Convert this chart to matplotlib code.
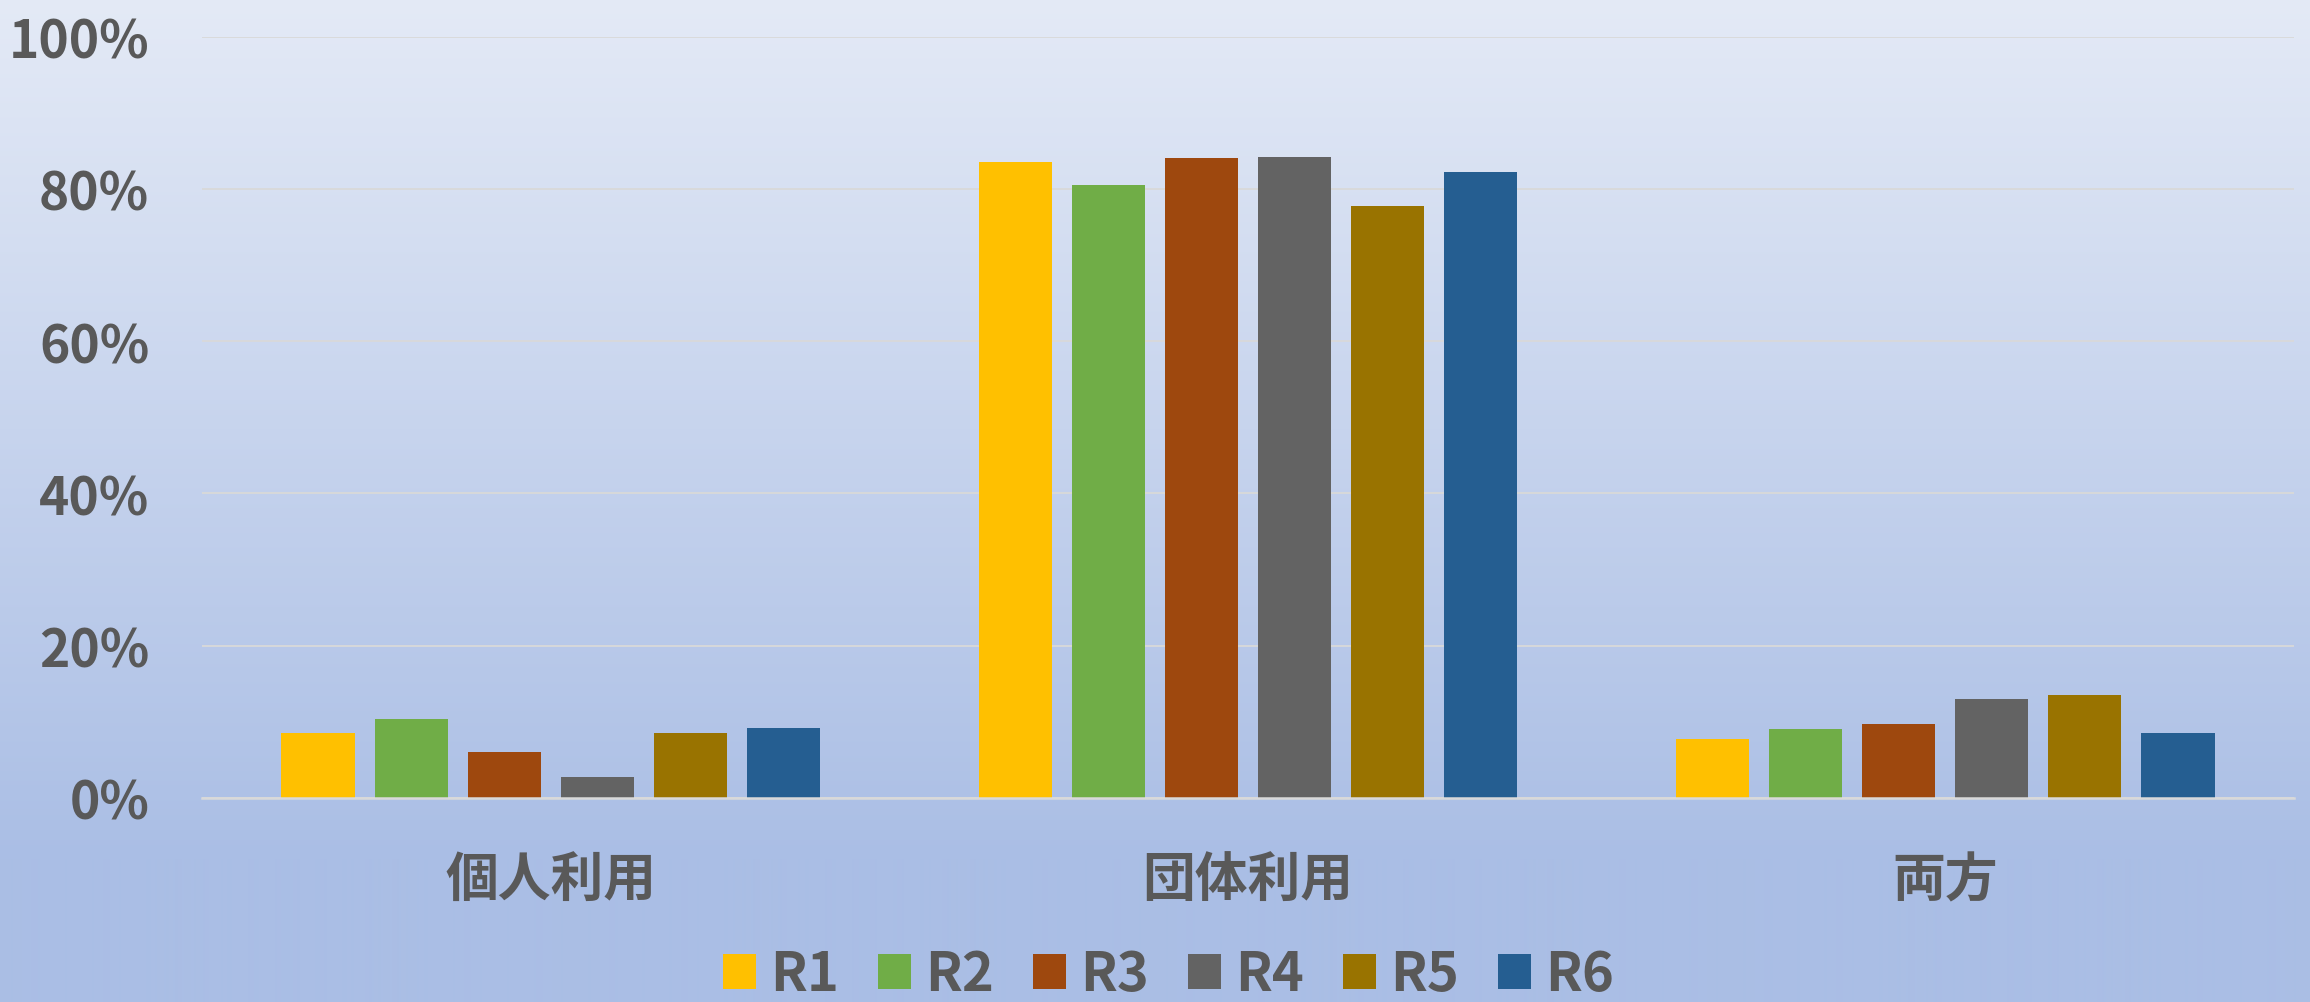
import numpy as np
import matplotlib
matplotlib.use("Agg")
import matplotlib.pyplot as plt
from matplotlib.ticker import PercentFormatter

plt.rcParams['font.family'] = ['Noto Sans CJK JP', 'DejaVu Sans']

categories = ["個人利用", "団体利用", "両方"]
series_names = ["R1", "R2", "R3", "R4", "R5", "R6"]
r1 = [8.5, 83.5, 7.8]
r2 = [10.4, 80.5, 9.0]
r3 = [6.1, 84.0, 9.7]
r4 = [2.7, 84.2, 13.0]
r5 = [8.6, 77.7, 13.5]
r6 = [9.2, 82.2, 8.5]
series = [r1, r2, r3, r4, r5, r6]
colors = ["#FFC000", "#70AD47", "#9E480E", "#636363", "#997300", "#255E91"]
yticks = [0, 20, 40, 60, 80, 100]

W, H = 2310, 1003
fig = plt.figure(figsize=(W / 100, H / 100), dpi=100)

# background gradient
bg = fig.add_axes([0, 0, 1, 1], zorder=-10)
top = np.array([228, 234, 246]) / 255
bot = np.array([170, 190, 229]) / 255
rows = np.arange(H)
t = np.clip(rows / 860.0, 0, 1)[:, None]
grad = top * (1 - t) + bot * t
img = np.repeat(grad[:, None, :], 4, axis=1)
bg.imshow(img, aspect='auto', extent=[0, 1, 0, 1], interpolation='bilinear')
bg.set_axis_off()

left = 202 / W
right = 2294 / W
bottom = 1 - 799 / H
topp = 1 - 37.5 / H
ax = fig.add_axes([left, bottom, right - left, topp - bottom])
ax.set_facecolor('none')

x = np.arange(len(categories))
pitch = 0.1334
width = 0.105
for j, (name, vals, c) in enumerate(zip(series_names, series, colors)):
    ax.bar(x + (j - 2.5) * pitch, vals, width=width, color=c, label=name, zorder=3)

ax.set_xlim(-0.5, len(categories) - 0.5)
ax.set_ylim(0, 100)
ax.set_yticks(yticks)
ax.yaxis.set_major_formatter(PercentFormatter(decimals=0))
ax.grid(axis='y', color='#d9d9d9', linewidth=1.3, zorder=0)
for s in ['top', 'right', 'left']:
    ax.spines[s].set_visible(False)
ax.spines['bottom'].set_color('#d9d9d9')
ax.spines['bottom'].set_linewidth(1.8)
ax.spines['bottom'].set_zorder(4)
ax.set_xticks(x)
ax.set_xticklabels(categories)
ax.tick_params(axis='y', length=0, pad=38, labelsize=37, labelcolor='#595959')
ax.tick_params(axis='x', length=0, pad=40, labelsize=38, labelcolor='#595959')
for lab in ax.get_yticklabels() + ax.get_xticklabels():
    lab.set_fontweight('bold')

leg = fig.legend(loc='center', bbox_to_anchor=(0.506, 1 - 976 / H), ncol=6,
                 frameon=False, prop={'size': 39, 'weight': 'bold'},
                 handlelength=0.6, handleheight=0.6, handletextpad=0.27,
                 columnspacing=0.72, labelcolor='#595959')

fig.savefig("out.png", dpi=100)
